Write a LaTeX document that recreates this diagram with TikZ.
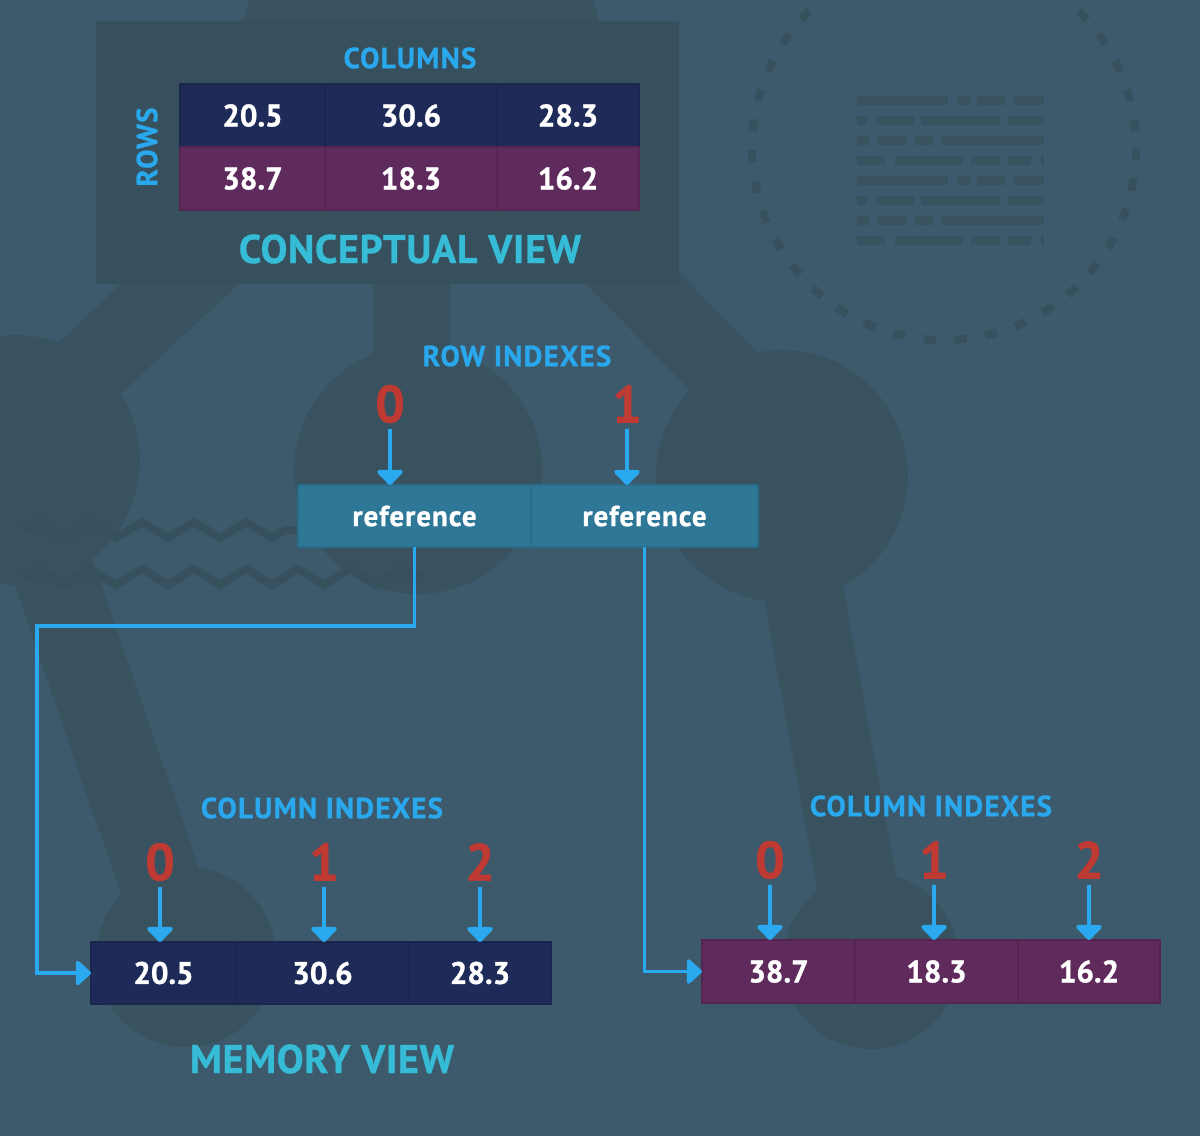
\documentclass[tikz,border=0pt]{standalone}
\usepackage{fontspec}
\setmainfont{PT Sans}[BoldFeatures={FakeBold=1.1}]
\newfontfamily\labelfont{PT Sans}[LetterSpace=4.2, BoldFeatures={FakeBold=0.8}]
\newfontfamily\reffont{PT Sans}[LetterSpace=3.4, BoldFeatures={FakeBold=0.8}]
\newfontfamily\viewfont{PT Sans}[LetterSpace=1.7, BoldFeatures={FakeBold=0.8}]
\usetikzlibrary{arrows.meta,decorations.pathmorphing}

\definecolor{bgslate}{HTML}{3C5A6B}
\definecolor{bgshade}{HTML}{38525F}
\definecolor{panelshade}{HTML}{36505E}
\definecolor{zigshade}{HTML}{36505E}
\definecolor{dashshade}{HTML}{36505D}
\definecolor{lineshade}{HTML}{38525F}
\definecolor{navycell}{HTML}{1E2B58}
\definecolor{navyedge}{HTML}{1A264E}
\definecolor{plumcell}{HTML}{5F2A5C}
\definecolor{plumedge}{HTML}{552552}
\definecolor{refcell}{HTML}{2E7797}
\definecolor{refedge}{HTML}{2A6C8A}
\definecolor{labelblue}{HTML}{2AA8EE}
\definecolor{titleteal}{HTML}{36BCD6}
\definecolor{indexred}{HTML}{BF3A33}
\definecolor{linkblue}{HTML}{2BA9F0}

\newcommand{\fsz}[1]{\fontsize{#1}{#1}\selectfont\bfseries}

\tikzset{
  cell/.style={inner sep=0pt, outer sep=0pt, minimum height=63pt, text=white, font=\fsz{31}, line width=1.5pt},
  navybox/.style={cell, fill=navycell, draw=navyedge},
  plumbox/.style={cell, fill=plumcell, draw=plumedge},
  refbox/.style={cell, fill=refcell, draw=refedge, minimum height=62pt, font=\reffont\fsz{29}},
  headtext/.style={text=labelblue, font=\labelfont\fsz{29}, inner sep=0pt},
  viewtitle/.style={text=titleteal, font=\viewfont\fsz{40}, inner sep=0pt},
  idxnum/.style={text=indexred, font=\fsz{52}, inner sep=0pt},
  idxarrow/.style={draw=linkblue, line width=4pt, -{Triangle[width=30pt,length=16pt,round]}},
  link/.style={draw=linkblue, line width=3.5pt, -{Triangle[width=28pt,length=16pt,round]}},
  bar/.style={draw=bgshade, line width=#1},
  zig/.style={draw=zigshade, line width=8pt, decorate,
    decoration={zigzag, segment length=52pt, amplitude=8pt}},
}

\begin{document}
\begin{tikzpicture}[x=1pt, y=-1pt]
    \useasboundingbox (0,0) rectangle (1200,1136);
    \fill[bgslate] (0,0) rectangle (1200,1136);

    % background molecule
    \draw[bar=80pt] (-20,470) -- (421,60);
    \draw[bar=75pt] (421,60) -- (800,450);
    \draw[bar=77pt] (411,60) -- (411,470);
    \draw[bar=82pt] (15,460) -- (186,957);
    \draw[bar=80pt] (782,476) -- (871,961);
    \fill[bgshade] (421,60) circle[radius=182];
    \fill[bgshade] (15,460) circle[radius=125];
    \fill[bgshade] (418,470) circle[radius=124];
    \fill[bgshade] (782,476) circle[radius=126];
    \fill[bgshade] (186,957) circle[radius=90];
    \fill[bgshade] (871,961) circle[radius=88];
    \draw[zig] (25,530) -- (300,530);
    \draw[zig] (25,577) -- (423,577);
    \draw[dashshade, line width=8pt, dash pattern=on 12pt off 19pt] (944,148) circle[radius=192];
    \foreach \dy in {0,80}{
        \foreach \yy/\segs in {100/{857/948,957/971,977/1005,1014/1044},
                               120/{857/867,876/914,921/1000,1008/1044},
                               140/{857/869,877/907,915/933,941/1044},
                               160/{857/885,895/963,971/1000,1008/1031,1041/1044}}{
            \foreach \a/\b in \segs
                \fill[lineshade] (\a,\yy+\dy-4.5) rectangle (\b,\yy+\dy+4.5);
        }
    }
    \fill[panelshade] (96,21) rectangle (679,284);

    % conceptual view
    \node[headtext] (columns) at (410,58) {COLUMNS};
    \node[headtext, rotate=90] (rows) at (147,147) {ROWS};
    \node[navybox, minimum width=145pt, anchor=north west] (t11) at (180,84) {20.5};
    \node[navybox, minimum width=172pt, anchor=west] (t12) at (t11.east) {30.6};
    \node[navybox, minimum width=142pt, anchor=west] (t13) at (t12.east) {28.3};
    \node[plumbox, minimum width=145pt, anchor=north] (t21) at (t11.south) {38.7};
    \node[plumbox, minimum width=172pt, anchor=west] (t22) at (t21.east) {18.3};
    \node[plumbox, minimum width=142pt, anchor=west] (t23) at (t22.east) {16.2};
    \node[viewtitle] (concept) at (410,249) {CONCEPTUAL VIEW};

    % row references
    \node[headtext] (rowidx) at (517,356) {ROW INDEXES};
    \node[refbox, minimum width=233pt, anchor=north west] (ref0) at (298,485) {reference};
    \node[refbox, minimum width=227pt, anchor=west] (ref1) at (ref0.east) {reference};
    \node[idxnum] (ri0) at (390,404) {0};
    \node[idxnum] (ri1) at (627,404) {1};
    \draw[idxarrow] ([yshift=-6pt]ri0.south) -- (ri0.south |- ref0.north);
    \draw[idxarrow] ([yshift=-6pt]ri1.south) -- (ri1.south |- ref1.north);

    % memory view, row 0
    \node[headtext] (colidxL) at (322,808) {COLUMN INDEXES};
    \node[navybox, minimum width=145pt, minimum height=62pt, anchor=north west] (m0) at (91,942) {20.5};
    \node[navybox, minimum width=173pt, minimum height=62pt, anchor=west] (m1) at (m0.east) {30.6};
    \node[navybox, minimum width=142pt, minimum height=62pt, anchor=west] (m2) at (m1.east) {28.3};
    \node[idxnum] (mi0) at (160,862) {0};
    \node[idxnum] (mi1) at (324,862) {1};
    \node[idxnum] (mi2) at (480,862) {2};
    \foreach \i in {0,1,2}
        \draw[idxarrow] ([yshift=-6pt]mi\i.south) -- (mi\i.south |- m\i.north);
    \node[viewtitle] (memory) at (322,1059) {MEMORY VIEW};

    % memory view, row 1
    \node[headtext] (colidxR) at (931,806) {COLUMN INDEXES};
    \node[plumbox, minimum width=153pt, anchor=north west] (p0) at (702,940) {38.7};
    \node[plumbox, minimum width=163pt, anchor=west] (p1) at (p0.east) {18.3};
    \node[plumbox, minimum width=142pt, anchor=west] (p2) at (p1.east) {16.2};
    \node[idxnum] (pi0) at (770,860) {0};
    \node[idxnum] (pi1) at (934,860) {1};
    \node[idxnum] (pi2) at (1089,860) {2};
    \foreach \i in {0,1,2}
        \draw[idxarrow] ([yshift=-6pt]pi\i.south) -- (pi\i.south |- p\i.north);

    % references into memory
    \coordinate (bendL) at (37,626);
    \draw[link] (ref0.south) |- (bendL) |- (m0.west);
    \draw[link] (ref1.south) |- (p0.west);
\end{tikzpicture}
\end{document}
